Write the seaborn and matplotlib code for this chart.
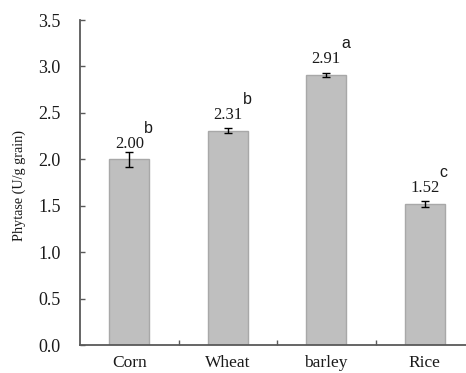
import matplotlib
matplotlib.use("Agg")
import matplotlib.pyplot as plt
import seaborn as sns
import pandas as pd

# Phytase activity per grain type
grains = ["Corn", "Wheat", "barley", "Rice"]
phytase = [2.00, 2.31, 2.91, 1.52]
sd = [0.08, 0.03, 0.02, 0.03]
groups = ["b", "b", "a", "c"]
y_ticks = [0.0, 0.5, 1.0, 1.5, 2.0, 2.5, 3.0, 3.5]

df = pd.DataFrame({"grain": grains, "phytase": phytase})

sns.set_style("white")
plt.rcParams["font.family"] = ["Liberation Serif", "DejaVu Serif"]

fig = plt.figure(figsize=(4.66, 3.73), dpi=100)
ax = fig.add_axes([80 / 466, 28 / 373, 394 / 466, 325 / 373])

sns.barplot(data=df, x="grain", y="phytase", order=grains, errorbar=None,
            color="#BFBFBF", saturation=1, width=0.41,
            edgecolor="#A8A8A8", linewidth=1.0, ax=ax)

xs = list(range(len(grains)))
ax.errorbar(xs, phytase, yerr=sd, fmt="none", ecolor="black",
            elinewidth=1.0, capsize=3, capthick=1.0, zorder=5)

for x, v, g in zip(xs, phytase, groups):
    ax.annotate(f"{v:.2f}", xy=(x, v), xytext=(0, 8.3), textcoords="offset points",
                ha="center", va="baseline", fontsize=12, color="#1a1a1a")
    ax.annotate(g, xy=(x, v), xytext=(10.8, 19.2), textcoords="offset points",
                ha="left", va="baseline", fontsize=11.5, color="#1a1a1a",
                family=["Liberation Sans", "DejaVu Sans"])

ax.set_ylim(0, 3.5)
ax.set_xlim(-0.5, 3.5)
ax.set_yticks(y_ticks)
ax.set_yticklabels([f"{t:.1f}" for t in y_ticks])
ax.set_xlabel("")
ax.set_ylabel("Phytase (U/g grain)", fontsize=10.2, color="#1a1a1a")
ax.yaxis.set_label_coords(-54 / 394, 0.49)

spine_color = "#595959"
for side in ["top", "right"]:
    ax.spines[side].set_visible(False)
for side in ["left", "bottom"]:
    ax.spines[side].set_color(spine_color)
    ax.spines[side].set_linewidth(1.3)

ax.tick_params(axis="y", direction="in", length=3.5, width=1, color=spine_color,
               pad=14, labelsize=13, labelcolor="#1a1a1a", left=True)
# category ticks are hidden; boundary marks between categories instead
ax.tick_params(axis="x", which="major", length=0, pad=7, labelsize=12.5,
               labelcolor="#1a1a1a")
ax.set_xticks([0.5, 1.5, 2.5], minor=True)
ax.tick_params(axis="x", which="minor", direction="in", length=3.5, width=1,
               color=spine_color, bottom=True)

fig.savefig("out.png", dpi=100)
